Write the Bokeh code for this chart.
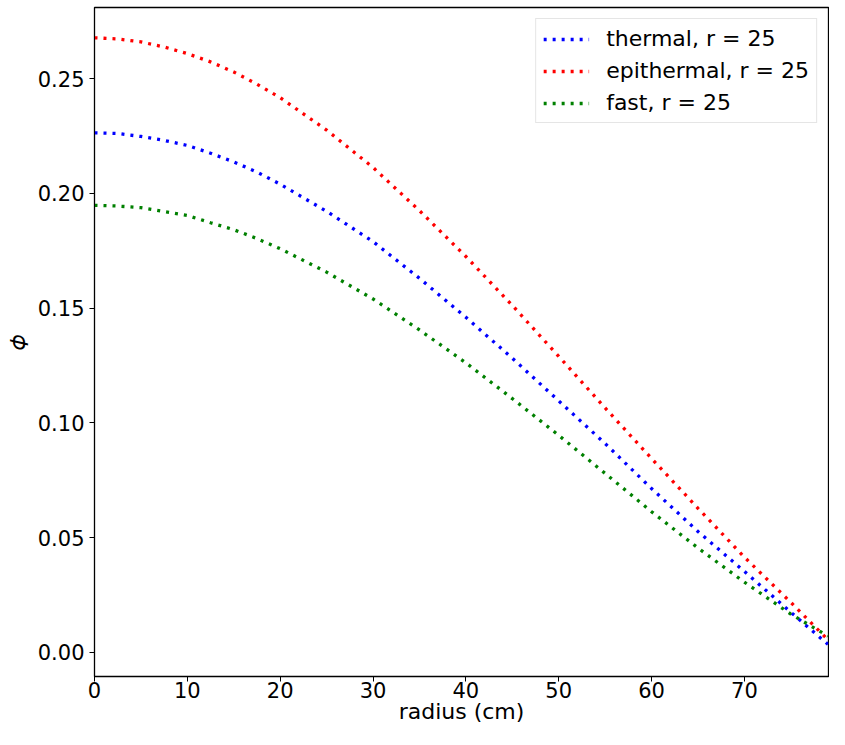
from bokeh.plotting import figure
from bokeh.models import Range1d, FixedTicker, PrintfTickFormatter, Legend, LegendItem
from bokeh.embed import file_html
from bokeh.resources import INLINE

# ---- data ----
radius = [0, 2.5, 5, 7.5, 10, 12.5, 15, 17.5, 20, 25, 30, 35, 40, 45, 50, 55, 60, 65, 70, 75, 79]
thermal = [0.2264, 0.2261, 0.2248, 0.2231, 0.2209, 0.2175, 0.2137, 0.2093, 0.2040, 0.1922,
           0.1790, 0.1630, 0.1460, 0.1282, 0.1096, 0.0910, 0.0714, 0.0527, 0.0353, 0.0175, 0.0035]
epithermal = [0.2678, 0.2673, 0.2660, 0.2638, 0.2609, 0.2573, 0.2529, 0.2476, 0.2417, 0.2276,
              0.2113, 0.1925, 0.1725, 0.1512, 0.1290, 0.1065, 0.0845, 0.0628, 0.0415, 0.0218, 0.0055]
fast = [0.1948, 0.1945, 0.1938, 0.1921, 0.1904, 0.1872, 0.1842, 0.1803, 0.1759, 0.1657,
        0.1540, 0.1405, 0.1262, 0.1106, 0.0946, 0.0780, 0.0613, 0.0455, 0.0306, 0.0167, 0.0071]
series_labels = ["thermal, r = 25", "epithermal, r = 25", "fast, r = 25"]
series_colors = ["blue", "red", "green"]
x_ticks = [0, 10, 20, 30, 40, 50, 60, 70]
y_ticks = [0.00, 0.05, 0.10, 0.15, 0.20, 0.25]
x_label = "radius (cm)"
y_label = "\U0001D719"  # italic phi

FONT = "DejaVu Sans"
TICK_FS = "21px"
FS = "22px"

p = figure(width=829, height=729, output_backend="svg", toolbar_location=None,
           x_range=Range1d(0, 79.06), y_range=Range1d(-0.0105, 0.281),
           min_border_left=94, min_border_right=1, min_border_top=7, min_border_bottom=53)

p.xgrid.visible = False
p.ygrid.visible = False
p.outline_line_color = "black"
p.outline_line_width = 1.3
p.background_fill_color = "white"
p.border_fill_color = "white"

items = []
for ys, lab, col in zip([thermal, epithermal, fast], series_labels, series_colors):
    r = p.line(radius, ys, line_color=col, line_width=3.3, line_dash="3 6", line_cap="butt")
    items.append(LegendItem(label=lab, renderers=[r]))

for ax in (p.xaxis[0], p.yaxis[0]):
    ax.major_label_text_font = FONT
    ax.major_label_text_font_size = TICK_FS
    ax.major_label_text_color = "black"
    ax.axis_label_text_font = FONT
    ax.axis_label_text_font_size = FS
    ax.axis_label_text_font_style = "normal"
    ax.axis_label_text_color = "black"
    ax.major_tick_out = 5
    ax.major_tick_in = 0
    ax.minor_tick_out = 0
    ax.minor_tick_in = 0
    ax.axis_line_color = "black"
    ax.major_tick_line_color = "black"

p.xaxis.ticker = FixedTicker(ticks=x_ticks)
p.yaxis.ticker = FixedTicker(ticks=y_ticks)
p.yaxis.formatter = PrintfTickFormatter(format="%.2f")
p.xaxis.axis_label = x_label
p.yaxis.axis_label = y_label
p.xaxis.major_label_standoff = 0
p.yaxis.major_label_standoff = 5
p.xaxis.axis_label_standoff = -2
p.yaxis.axis_label_standoff = 5

legend = Legend(items=items, location="top_right",
                label_text_font=FONT, label_text_font_size=FS, label_text_color="black",
                glyph_width=46, glyph_height=24, label_height=24,
                label_standoff=17, spacing=7, padding=7, margin=11,
                border_line_color="#cccccc", border_line_width=1.3,
                background_fill_color="white", background_fill_alpha=0.8)
p.add_layout(legend, "center")

open("out.html", "w").write(file_html(p, INLINE))
